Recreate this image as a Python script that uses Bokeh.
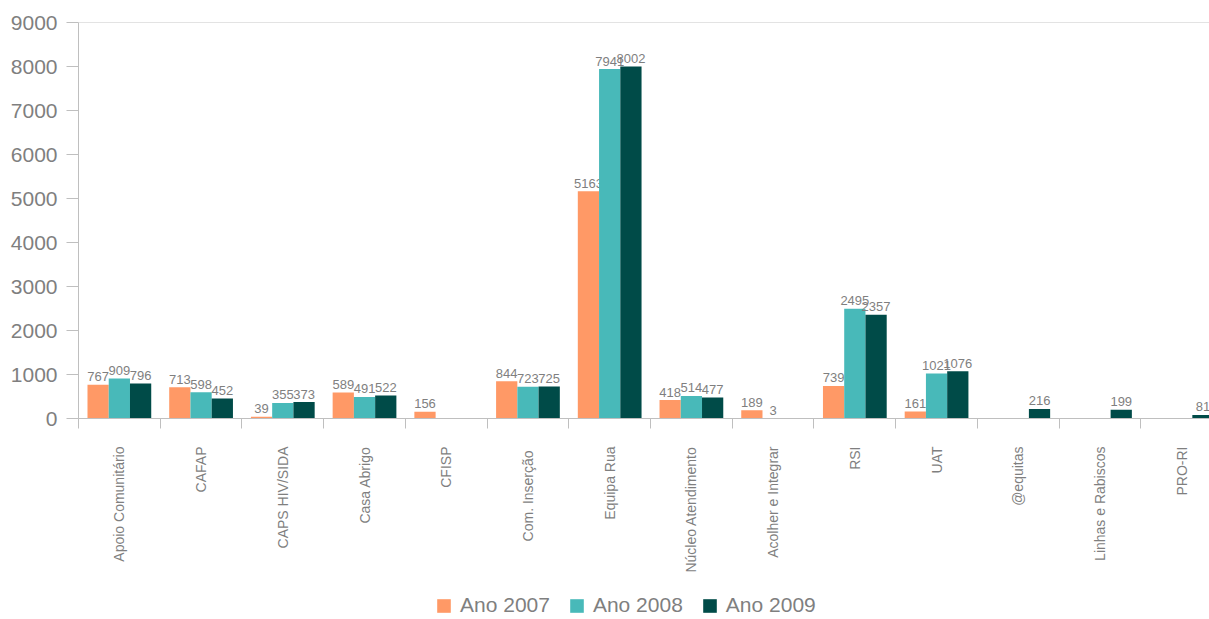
import numpy as np
from bokeh.plotting import figure
from bokeh.layouts import column
from bokeh.models import ColumnDataSource, FixedTicker, Span, Legend, LegendItem
from bokeh.core.properties import value
from bokeh.embed import file_html
from bokeh.resources import INLINE

categories = ["Apoio Comunitário", "CAFAP", "CAPS HIV/SIDA", "Casa Abrigo", "CFISP",
              "Com.  Inserção", "Equipa Rua", "Núcleo Atendimento", "Acolher e Integrar",
              "RSI", "UAT", "@equitas", "Linhas e Rabiscos", "PRO-RI"]
series_names = ["Ano 2007", "Ano 2008", "Ano 2009"]
ano_2007 = [767, 713, 39, 589, 156, 844, 5163, 418, 189, 739, 161, None, None, None]
ano_2008 = [909, 598, 355, 491, None, 723, 7941, 514, 3, 2495, 1021, None, None, None]
ano_2009 = [796, 452, 373, 522, None, 725, 8002, 477, None, 2357, 1076, 216, 199, 81]
y_ticks = [0, 1000, 2000, 3000, 4000, 5000, 6000, 7000, 8000, 9000]

colors = ["#FF9966", "#48B9B9", "#004B48"]
FONT = "Liberation Sans"
GREY = "#7f7f7f"
AXIS_GREY = "#bfbfbf"

n = len(categories)
p = figure(width=1209, height=590, x_range=(0, 13.84), y_range=(0, 9000),
           output_backend="svg", toolbar_location=None,
           min_border_left=78, min_border_right=0, min_border_top=22, min_border_bottom=172)
p.xgrid.visible = False
p.ygrid.visible = False
p.outline_line_color = None
p.background_fill_color = "white"
p.border_fill_color = "white"

bw = 0.26
offsets = [-0.26, 0.0, 0.26]
for vals, off, col in zip([ano_2007, ano_2008, ano_2009], offsets, colors):
    xs, ys, labs = [], [], []
    for i, v in enumerate(vals):
        if v is None:
            continue
        xs.append(i + 0.5 + off)
        ys.append(v)
        labs.append(str(v))
    src = ColumnDataSource(dict(x=xs, top=ys, label=labs))
    p.vbar(x="x", top="top", width=bw, source=src, fill_color=col, line_color=None)
    p.text(x="x", y="top", text="label", source=src, text_align="center",
           text_baseline="alphabetic", y_offset=-8, text_font=value(FONT),
           text_font_size="13px", text_color=GREY)

p.add_layout(Span(location=9000, dimension="width", line_color="#c8c8c8", line_width=1))

# y axis
p.yaxis.ticker = FixedTicker(ticks=y_ticks)
p.yaxis.axis_line_color = AXIS_GREY
p.yaxis.major_tick_line_color = AXIS_GREY
p.yaxis.major_tick_out = 12
p.yaxis.major_tick_in = 0
p.yaxis.minor_tick_line_color = None
p.yaxis.major_label_text_font = FONT
p.yaxis.major_label_text_font_size = "21px"
p.yaxis.major_label_text_color = GREY
p.yaxis.major_label_standoff = 9

# x axis
centers = [i + 0.5 for i in range(n)]
bounds = [float(i) for i in range(n + 1)]
p.xaxis.ticker = FixedTicker(ticks=centers, minor_ticks=bounds)
p.xaxis.major_label_overrides = {c: name for c, name in zip(centers, categories)}
p.xaxis.axis_line_color = AXIS_GREY
p.xaxis.major_tick_line_color = None
p.xaxis.major_tick_out = 0
p.xaxis.major_tick_in = 0
p.xaxis.minor_tick_line_color = AXIS_GREY
p.xaxis.minor_tick_out = 10
p.xaxis.minor_tick_in = 0
p.xaxis.major_label_orientation = np.pi / 2
p.xaxis.major_label_text_font = FONT
p.xaxis.major_label_text_font_size = "14px"
p.xaxis.major_label_text_color = GREY
p.xaxis.major_label_standoff = 18

# legend strip below the chart (swatches are legend-only, kept out of view)
lf = figure(width=1209, height=29, x_range=(0, 1), y_range=(0, 1),
            output_backend="svg", toolbar_location=None,
            min_border_left=0, min_border_right=0, min_border_top=0, min_border_bottom=0)
lf.axis.visible = False
lf.grid.visible = False
lf.outline_line_color = None
items = []
for col, nm in zip(colors, series_names):
    r = lf.vbar(x=[-5], top=[-5], width=0.1, fill_color=col, line_color=None)
    items.append(LegendItem(label=nm, renderers=[r]))
legend = Legend(items=items, orientation="horizontal", location=(357, 2),
                glyph_width=17, glyph_height=17, label_standoff=8, spacing=18,
                label_text_font=FONT, label_text_font_size="21px", label_text_color=GREY,
                border_line_color=None, background_fill_alpha=0, padding=0, margin=0)
lf.add_layout(legend, "center")

layout = column(p, lf, spacing=0)
open("out.html", "w").write(file_html(layout, INLINE))
